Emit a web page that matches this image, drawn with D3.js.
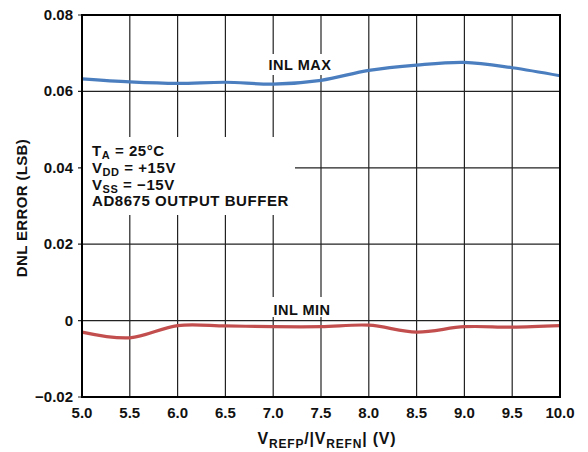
<!DOCTYPE html>
<html><head><meta charset="utf-8">
<script src="https://cdn.jsdelivr.net/npm/d3@7/dist/d3.min.js"></script>
<style>
body{margin:0;background:#fff;}
text{font-family:"Liberation Sans",Arial,Helvetica,sans-serif;font-weight:bold;fill:#111;}
</style></head>
<body><svg id="c" width="588" height="452"></svg>
<script>
const xValues = [5.0,5.5,6.0,6.5,7.0,7.5,8.0,8.5,9.0,9.5,10.0];
const inlMax = [0.0633,0.0625,0.0621,0.0624,0.0619,0.0629,0.0655,0.0669,0.0676,0.0662,0.0641];
const inlMin = [-0.0030,-0.0045,-0.0013,-0.0014,-0.0016,-0.0016,-0.0012,-0.0030,-0.0016,-0.0017,-0.0013];
const xTicks = [5.0,5.5,6.0,6.5,7.0,7.5,8.0,8.5,9.0,9.5,10.0];
const yTicks = [-0.02,0,0.02,0.04,0.06,0.08];
const yTickLabels = ["\u22120.02","0","0.02","0.04","0.06","0.08"];
const notes = [["T","A"," = 25°C"],["V","DD"," = +15V"],["V","SS"," = \u221215V"],["AD8675 OUTPUT BUFFER","",""]];

const svg = d3.select("#c");
const L=82,R=560,T=15,B=397;
const x = d3.scaleLinear().domain([5,10]).range([L,R]);
const y = d3.scaleLinear().domain([-0.02,0.08]).range([B,T]);

// gridlines
const g = svg.append("g");
g.selectAll("line.v").data(xTicks).join("line")
  .attr("x1",d=>x(d)).attr("x2",d=>x(d)).attr("y1",T).attr("y2",B)
  .attr("stroke","#222").attr("stroke-width",1.2);
g.selectAll("line.h").data(yTicks).join("line")
  .attr("x1",L-4).attr("x2",R).attr("y1",d=>y(d)).attr("y2",d=>y(d))
  .attr("stroke","#222").attr("stroke-width",1.2);

// white label backgrounds
svg.append("rect").attr("x",L+1).attr("y",137).attr("width",295-L-1).attr("height",78).attr("fill","#fff");
svg.append("rect").attr("x",264).attr("y",54).attr("width",72).attr("height",21).attr("fill","#fff");
svg.append("rect").attr("x",264).attr("y",297).attr("width",76).attr("height",20).attr("fill","#fff");

// data lines
const line = d3.line().x((d,i)=>x(xValues[i])).y(d=>y(d)).curve(d3.curveCatmullRom.alpha(0.5));
svg.append("path").attr("d",line(inlMax)).attr("fill","none").attr("stroke","#4a7ebf").attr("stroke-width",3.2);
svg.append("path").attr("d",line(inlMin)).attr("fill","none").attr("stroke","#c24f4e").attr("stroke-width",3.2);

// frame
svg.append("rect").attr("x",L).attr("y",T).attr("width",R-L).attr("height",B-T)
  .attr("fill","none").attr("stroke","#000").attr("stroke-width",2);

// tick labels
svg.selectAll("text.yt").data(yTicks).join("text")
  .attr("x",L-9).attr("y",d=>y(d)+5).attr("text-anchor","end")
  .style("font-size","15px").text((d,i)=>yTickLabels[i]);
svg.selectAll("text.xt").data(xTicks).join("text")
  .attr("x",d=>x(d)).attr("y",B+21).attr("text-anchor","middle")
  .style("font-size","15px").text(d=>d.toFixed(1));

// axis titles
svg.append("text").attr("transform",`translate(27,208) rotate(-90)`)
  .attr("text-anchor","middle").style("font-size","15px").style("letter-spacing","0.35px").text("DNL ERROR (LSB)");
const xt = svg.append("text").attr("x",327).attr("y",444).attr("text-anchor","middle").style("font-size","16px").style("letter-spacing","0.8px");
xt.append("tspan").text("V");
xt.append("tspan").attr("dy",4).style("font-size","12px").text("REFP");
xt.append("tspan").attr("dy",-4).text("/|V");
xt.append("tspan").attr("dy",4).style("font-size","12px").text("REFN");
xt.append("tspan").attr("dy",-4).text("| (V)");

// series labels
svg.append("text").attr("x",300).attr("y",70).attr("text-anchor","middle").style("font-size","14.5px").style("letter-spacing","0.5px").text("INL MAX");
svg.append("text").attr("x",302).attr("y",315).attr("text-anchor","middle").style("font-size","14.5px").style("letter-spacing","0.5px").text("INL MIN");

// notes
notes.forEach((n,i)=>{
  const t = svg.append("text").attr("x",92).attr("y",156+i*16.8).style("font-size","15px").style("letter-spacing","0.55px");
  t.append("tspan").text(n[0]);
  if(n[1]){ t.append("tspan").attr("dy",3).style("font-size","11px").text(n[1]);
            t.append("tspan").attr("dy",-3).text(n[2]); }
});
</script></body></html>
